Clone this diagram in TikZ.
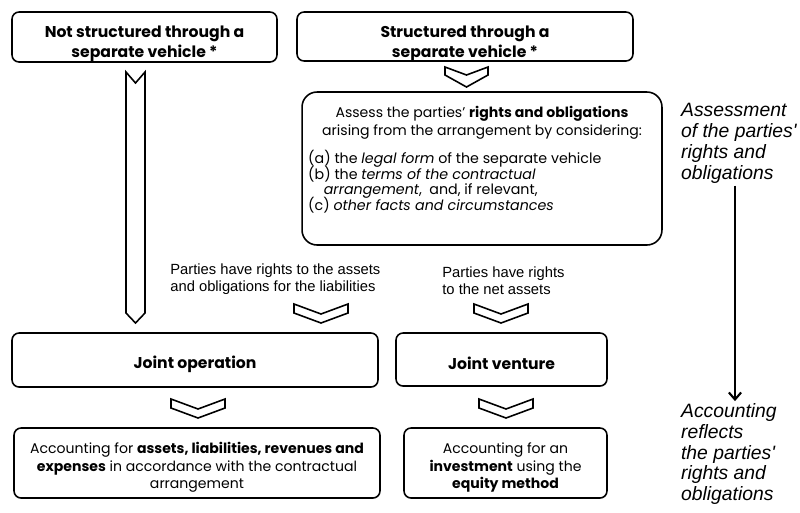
\documentclass[tikz,border=0pt]{standalone}
\usepackage{fontspec}
\setmainfont{Poppins}
\newfontfamily\arialfont{Liberation Sans}
\usetikzlibrary{arrows.meta}
\newcommand\listfont{\fontsize{8.1}{8.9}\selectfont\lineskiplimit -20pt\relax}

\tikzset{
	box/.style={draw, line width= 0.9pt, rounded corners= 4pt, inner sep= 0pt},
	title/.style={font= \bfseries\fontsize{8.9}{11.4}\selectfont, align= center},
	body/.style={font= \fontsize{8}{10}\selectfont},
	note/.style={font= \arialfont\fontsize{8.4}{9.8}\selectfont, align= left, inner sep= 0pt},
	side/.style={font= \arialfont\itshape\fontsize{11}{11.9}\selectfont, align= left, inner sep= 1pt},
	chev/.style={draw, line width= 0.9pt, fill= white},
	flow/.style={line width= 1.2pt, -{Straight Barb[length= 4pt, width= 7pt]}},
	pics/chevron/.style n args={4}{code={
		\draw[chev](-#1, 0)-- (0, #2)-- (#1, 0)-- (#1, #3)-- (0, #4)-- (-#1, #3)-- cycle;
	}}
}

\begin{document}
\begin{tikzpicture}[x= 0.02cm, y= -0.02cm]
	\useasboundingbox (0, 0) rectangle (800, 512);

	\node[box, minimum width= 5.3cm, minimum height= 1.0cm](nsv) at (144.5, 37) {}; %別ビークルなし
	\node[title](nsvtext) at (144.5, 44) {Not structured through a\\separate vehicle *};
	\node[box, minimum width= 6.72cm, minimum height= 0.98cm](sv) at (465, 36.5) {}; %別ビークルあり
	\node[title](svtext) at (465, 43.5) {Structured through a\\separate vehicle *};
	\pic at (466.5, 67) {chevron={21.5}{8}{8}{20}};

	\node[box, rounded corners= 0.3cm, minimum width= 7.2cm, minimum height= 3.06cm](assess) at (482, 168.5) {}; %評価の枠
	\node[body, align= center](asstop) at (482, 123) {Assess the parties' \textbf{rights and obligations}\\arising from the arrangement by considering:};
	\node[font= \listfont, align= left, anchor= north west](asslist) at (302, 144) {(a) the \textit{legal form} of the separate vehicle\\(b) the \textit{terms of the contractual}\\\hspace*{1.1em}\textit{arrangement},~ and, if relevant,\\(c) \textit{other facts and circumstances}};

	\draw[chev](126, 72)-- (135.5, 83)-- (145, 72)-- (145, 313)-- (135.5, 323)-- (126, 313)-- cycle; %左の長い矢印

	\node[note, anchor= west](assetnote) at (170, 279) {Parties have rights to the assets\\and obligations for the liabilities};
	\node[note, anchor= west](netnote) at (442, 280.5) {Parties have rights\\to the net assets};
	\pic at (321, 304) {chevron={27}{10}{9}{19}};
	\pic at (501, 304) {chevron={27}{10}{9}{19}};

	\node[box, minimum width= 7.32cm, minimum height= 1.08cm](jo) at (195, 360) {};
	\node[title](jotext) at (195, 364) {Joint operation};
	\node[box, minimum width= 4.22cm, minimum height= 1.06cm](jv) at (501.5, 359.5) {};
	\node[title](jvtext) at (501.5, 363.5) {Joint venture};
	\pic at (198, 399) {chevron={27}{10}{9}{19}};
	\pic at (506, 399) {chevron={27}{10}{9}{19}};

	\node[box, minimum width= 7.32cm, minimum height= 1.4cm](joacc) at (197, 463) {};
	\node[body, align= center](joacctext) at (197, 467.5) {Accounting for \textbf{assets, liabilities, revenues and}\\\textbf{expenses} in accordance with the contractual\\arrangement};
	\node[box, minimum width= 4.06cm, minimum height= 1.4cm](jvacc) at (505.5, 463) {};
	\node[body, align= center](jvacctext) at (505.5, 467.5) {Accounting for an\\\textbf{investment} using the\\\textbf{equity method}};

	\node[side, anchor= west](assessment) at (679, 143.5) {Assessment\\of the parties'\\rights and\\obligations}; %右側の説明
	\node[side, anchor= west](accounting) at (679, 454) {Accounting\\reflects\\the parties'\\rights and\\obligations};
	\draw[flow]([xshift= 1.12cm]assessment.south west)-- ([xshift= 1.12cm]accounting.north west);
\end{tikzpicture}
\end{document}
